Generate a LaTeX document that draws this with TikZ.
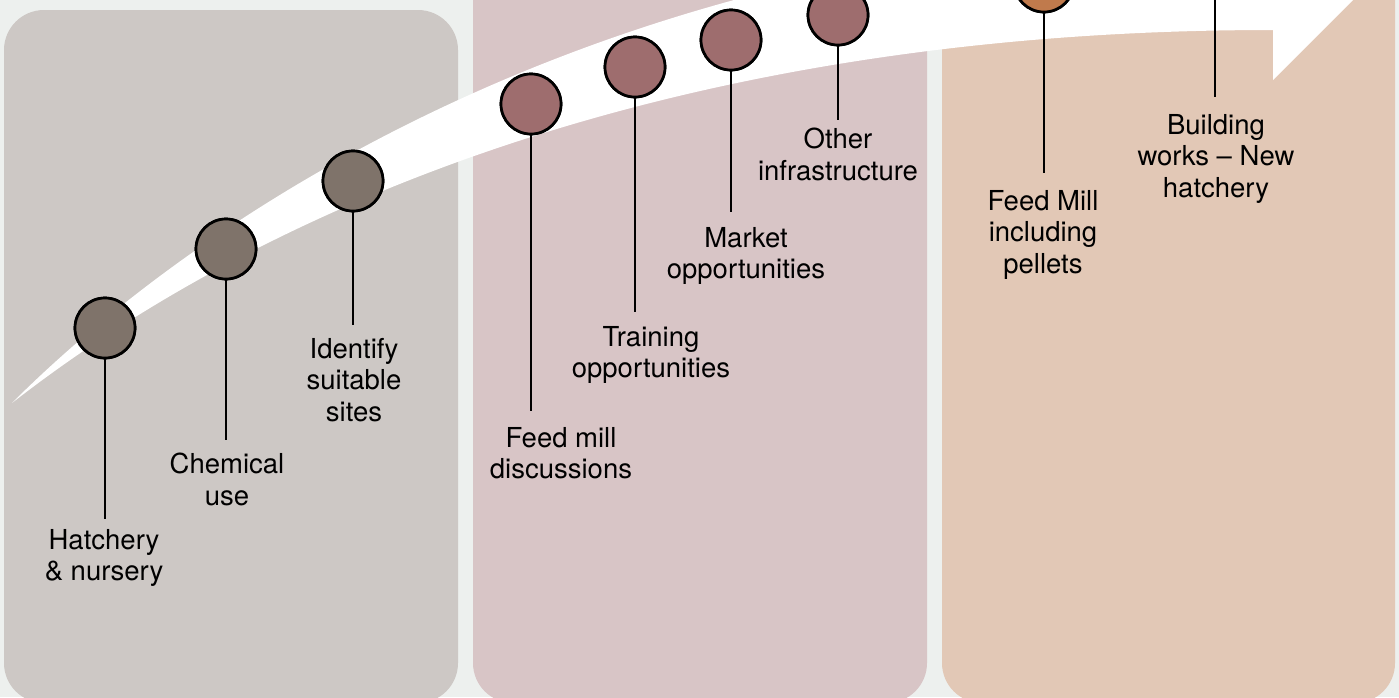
\documentclass[tikz,border=0pt]{standalone}
\usepackage{fontspec}
\setmainfont{TeX Gyre Heros}
\definecolor{bgc}{HTML}{EDF0EE}
\definecolor{panA}{HTML}{CDC8C5}
\definecolor{panB}{HTML}{D8C5C6}
\definecolor{panC}{HTML}{E2C8B6}
\definecolor{dotAc}{HTML}{7F736A}
\definecolor{dotBc}{HTML}{9E6D6E}
\definecolor{dotCc}{HTML}{C07A4C}
\begin{document}
\begin{tikzpicture}[x=1pt,y=-1pt,
  panel/.style={rounded corners=40pt},
  dotbase/.style={circle,draw=black,line width=2.7pt,minimum size=60pt,inner sep=0pt},
  dotA/.style={dotbase,fill=dotAc},
  dotB/.style={dotbase,fill=dotBc},
  dotC/.style={dotbase,fill=dotCc},
  stem/.style={line width=2.8pt,draw=black},
  lab/.style={font=\fontsize{27.5}{31.5}\selectfont,align=center,anchor=north,inner xsep=0pt}
]
\useasboundingbox (0,0) rectangle (1399,697);
\clip (0,0) rectangle (1399,697);
\fill[bgc] (0,0) rectangle (1399,697);
% panels
\fill[panA,panel] (4,10) rectangle (458,703);
\fill[panB,panel] (473,-60) rectangle (927,703);
\fill[panC,panel] (942,-60) rectangle (1395,703);
% sweeping arrow
\fill[white] (12,403) .. controls (262,208) and (673,30) .. (1273,30)
  -- (1273,80) -- (1378,-25) -- (1273,-130) -- (1273,-70)
  .. controls (573,-70) and (162,253) .. (12,403) -- cycle;
% circles
\node[dotA] (c1) at (105,328) {};
\node[dotA] (c2) at (226,249) {};
\node[dotA] (c3) at (353,181) {};
\node[dotB] (c4) at (531,104) {};
\node[dotB] (c5) at (635,67) {};
\node[dotB] (c6) at (731,40) {};
\node[dotB] (c7) at (838,15) {};
\node[dotC] (c8) at (1044,-18) {};
\node[dotC] (c9) at (1215,-48) {};
% labels
\node[lab,inner ysep=10pt] (l1) at (104,519) {Hatchery\\\& nursery};
\node[lab,inner ysep=13pt] (l2) at (227,440) {Chemical\\use};
\node[lab,inner ysep=13pt] (l3) at (354,325) {Identify\\suitable\\sites};
\node[lab,inner ysep=16pt] (l4) at (561,411) {Feed mill\\discussions};
\node[lab,inner ysep=14pt] (l5) at (651,312) {Training\\opportunities};
\node[lab,inner ysep=15pt] (l6) at (746,212) {Market\\opportunities};
\node[lab,inner ysep=8pt] (l7) at (838,120) {Other\\infrastructure};
\node[lab,inner ysep=17pt] (l8) at (1043,173) {Feed Mill\\including\\pellets};
\node[lab,inner ysep=17pt] (l9) at (1216,97) {Building\\works -- New\\hatchery};
% stems
\foreach \i in {1,...,9}{
  \draw[stem] (c\i.south) -- (c\i.south |- l\i.north);
}
% redraw circles on top of stems
\node[dotA] at (c1) {};
\node[dotA] at (c2) {};
\node[dotA] at (c3) {};
\node[dotB] at (c4) {};
\node[dotB] at (c5) {};
\node[dotB] at (c6) {};
\node[dotB] at (c7) {};
\node[dotC] at (c8) {};
\end{tikzpicture}
\end{document}
